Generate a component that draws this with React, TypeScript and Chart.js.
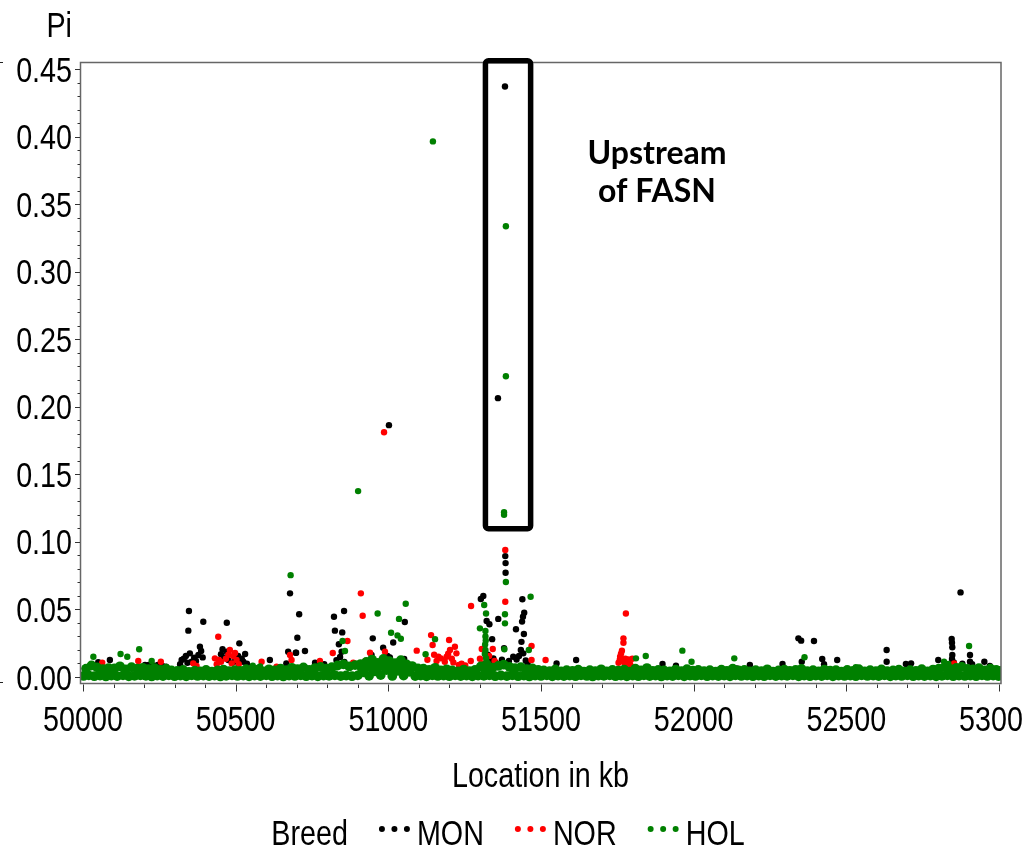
import React, { useEffect, useRef } from 'react';
import { Chart, registerables } from 'chart.js';

Chart.register(...registerables);

// Axis and legend text: Liberation Sans squeezed horizontally for a narrow face
const FONT = '"Liberation Sans", Arial, sans-serif';
const FONT_SIZE = 35;
const SQUEEZE = 0.82;
const NOTE_FONT = 'Lato, "Open Sans", sans-serif';

// Axis ticks
const xTicks = [50000, 50500, 51000, 51500, 52000, 52500, 53000];
const yTicks = [0, 0.05, 0.1, 0.15, 0.2, 0.25, 0.3, 0.35, 0.4, 0.45];

const breeds = ['MON', 'NOR', 'HOL'];
const breedColors = ['#000000', '#ff0000', '#008000'];

// Nucleotide diversity (Pi) per window, [location in kb, Pi]
const monPoints: [number, number][] = [
  [51382, 0.437], [51359, 0.2064], [51002, 0.1864],
  [50347, 0.0488], [50345, 0.0343], [50394, 0.0409], [50471, 0.0402], [50512, 0.0249],
  [50678, 0.0619], [50708, 0.0464], [50702, 0.0291], [50697, 0.018], [50672, 0.0187],
  [50822, 0.0446], [50855, 0.0488], [50825, 0.0343], [50849, 0.033], [50838, 0.0242], [50847, 0.0187],
  [50949, 0.0286], [50945, 0.0163], [50983, 0.0217], [50997, 0.0155], [51016, 0.0255], [51054, 0.0407], [51052, 0.0133],
  [51303, 0.0577], [51311, 0.060], [51322, 0.0414], [51331, 0.039], [51340, 0.028], [51344, 0.0138], [51360, 0.043],
  [51383, 0.0895], [51384, 0.0843], [51384, 0.0772], [51379, 0.0214],
  [51439, 0.0575], [51445, 0.0476], [51441, 0.0446], [51438, 0.041], [51418, 0.0353], [51444, 0.0318],
  [51436, 0.026], [51434, 0.020], [51409, 0.015], [51420, 0.013], [51442, 0.0175],
  [51551, 0.010], [51615, 0.0126],
  [52343, 0.0286], [52352, 0.0269], [52394, 0.0266], [52354, 0.0113], [52421, 0.0133], [52427, 0.0094],
  [52470, 0.0126], [52632, 0.02], [52632, 0.0113], [52695, 0.0096], [52712, 0.0101],
  [52874, 0.0626], [52845, 0.0281], [52846, 0.0254], [52847, 0.022], [52847, 0.0163], [52846, 0.0133],
  [52905, 0.0163], [52905, 0.0113], [52801, 0.0126], [52952, 0.0113], [52970, 0.0081],
  [52852, 0.0108], [52880, 0.0098], [52912, 0.0095],
  [50383, 0.0224], [50378, 0.0163], [50337, 0.0155], [50323, 0.0126], [50356, 0.0113],
  [50318, 0.0095], [50330, 0.0135], [50342, 0.0105], [50350, 0.0175], [50364, 0.0142], [50370, 0.0118], [50387, 0.0192], [50392, 0.0145],
  [50457, 0.0205], [50471, 0.0187], [50531, 0.017], [50525, 0.0113], [50514, 0.0113], [50612, 0.0126],
  [50452, 0.0168], [50462, 0.0142], [50476, 0.0125], [50495, 0.0112], [50508, 0.0155], [50520, 0.0135], [50537, 0.0098],
  [50698, 0.018], [50727, 0.0192], [50666, 0.010], [50760, 0.0105], [50790, 0.0095],
  [50830, 0.0125], [50842, 0.0148], [50856, 0.0112],
  [50992, 0.0125], [51005, 0.0145], [51022, 0.0098], [51045, 0.0112],
  [51326, 0.0165], [51336, 0.0118], [51352, 0.0105], [51372, 0.0128], [51395, 0.0118], [51428, 0.0155], [51450, 0.0122], [51456, 0.0098],
  [50088, 0.0126], [50050, 0.0109], [50203, 0.0089], [50215, 0.009], [50230, 0.0085], [50245, 0.009],
  [50260, 0.0082], [50272, 0.0076],
  [51898, 0.0096], [51942, 0.0084], [52291, 0.0096], [52184, 0.0089], [52141, 0.0064],
];

const norPoints: [number, number][] = [
  [50986, 0.1812], [51383, 0.094], [51383, 0.0557],
  [50443, 0.0298], [50910, 0.0619], [50916, 0.0453], [50866, 0.0266], [50818, 0.0178], [50940, 0.018], [50989, 0.0187],
  [51140, 0.031], [51199, 0.0274], [51218, 0.0224], [51093, 0.0195], [51271, 0.0525], [51306, 0.0207],
  [51342, 0.0207], [51469, 0.023], [51469, 0.0126], [51515, 0.0126], [51202, 0.02], [51223, 0.0175],
  [51164, 0.015], [51191, 0.015], [51231, 0.0089], [51145, 0.0237], [51270, 0.0118],
  [51128, 0.0128], [51150, 0.0165], [51158, 0.0118], [51172, 0.0138], [51185, 0.0112], [51196, 0.0172],
  [51208, 0.0135], [51213, 0.0108], [51240, 0.0098], [51252, 0.0085],
  [51300, 0.0135], [51312, 0.0098], [51330, 0.0155], [51348, 0.0118],
  [51778, 0.047], [51770, 0.0286], [51770, 0.0254], [51765, 0.0195], [51759, 0.015], [51776, 0.0135],
  [51786, 0.013], [51799, 0.0135], [51754, 0.0105], [51780, 0.009], [51792, 0.0095],
  [51762, 0.0172], [51768, 0.0118], [51773, 0.0105], [51758, 0.0128],
  [50361, 0.0101], [50372, 0.0081], [50481, 0.02], [50492, 0.0155], [50503, 0.0126], [50487, 0.0101],
  [50445, 0.0126], [50432, 0.0138], [50585, 0.0113], [50678, 0.0163], [50683, 0.0126], [50776, 0.0118],
  [50438, 0.0095], [50452, 0.0112], [50468, 0.0135], [50476, 0.0165], [50498, 0.0178], [50510, 0.0095],
  [50885, 0.0105], [50925, 0.0118],
  [50634, 0.0076], [50063, 0.0106], [50181, 0.0118], [50255, 0.0113], [52853, 0.0101], [52937, 0.0068],
];

const holPeaks: [number, number][] = [
  [51385, 0.3336], [51385, 0.2226], [51146, 0.3964], [50901, 0.1376], [51379, 0.122], [51379, 0.120],
  [50680, 0.0754], [51385, 0.0703], [51466, 0.0594], [51057, 0.0542], [51314, 0.0533], [51320, 0.047],
  [51035, 0.043], [50965, 0.047], [51382, 0.0464], [51382, 0.0397], [51009, 0.0328], [51041, 0.0283],
  [51030, 0.0308], [51153, 0.028], [51300, 0.036], [51318, 0.034], [51318, 0.030], [51319, 0.027],
  [51317, 0.024], [51318, 0.020], [51316, 0.017], [51320, 0.014], [51380, 0.0205], [51460, 0.02], [51122, 0.0168],
  [50850, 0.0266], [50858, 0.0192],
  [50034, 0.015], [50123, 0.017], [50145, 0.015], [50184, 0.0205], [50225, 0.0118], [50010, 0.0064],
  [50556, 0.0084], [50580, 0.0078], [52531, 0.0072],
  [51843, 0.0155], [51963, 0.0195], [51993, 0.0113], [52133, 0.0138], [51811, 0.0138], [52363, 0.0146],
  [52902, 0.023], [52820, 0.0113], [52834, 0.0096],
];

// Dense low-diversity windows of HOL that form the band along the baseline
const holBand: [number, number][] = [
  [50002, 0.0008], [50010, 0.0062], [50019, 0.0012], [50028, 0.0085], [50037, 0.0006], [50046, 0.0071], [50056, 0.0010], [50065, 0.0058], [50075, 0.0004], [50084, 0.0066], [50093, 0.0011],
  [50103, 0.0064], [50112, 0.0007], [50121, 0.0079], [50131, 0.0012], [50140, 0.0057], [50150, 0.0005], [50159, 0.0072], [50169, 0.0009], [50178, 0.0061], [50188, 0.0013], [50196, 0.0068],
  [50206, 0.0009], [50215, 0.0058], [50225, 0.0004], [50234, 0.0066], [50243, 0.0011], [50253, 0.0052], [50262, 0.0007], [50272, 0.0061], [50281, 0.0012], [50290, 0.0049],
  [50300, 0.0006], [50309, 0.0045], [50319, 0.0010], [50328, 0.0053], [50338, 0.0005], [50347, 0.0038], [50356, 0.0012], [50366, 0.0047], [50375, 0.0008], [50384, 0.0041], [50394, 0.0010],
  [50403, 0.0052], [50413, 0.0007], [50422, 0.0039], [50431, 0.0011], [50441, 0.0048], [50450, 0.0004], [50460, 0.0055], [50469, 0.0009], [50478, 0.0043], [50488, 0.0012], [50497, 0.0050],
  [50506, 0.0008], [50515, 0.0046], [50525, 0.0011], [50534, 0.0058], [50544, 0.0005], [50553, 0.0049], [50562, 0.0010], [50572, 0.0054], [50581, 0.0007], [50591, 0.0042],
  [50600, 0.0012], [50609, 0.0057], [50619, 0.0006], [50628, 0.0048], [50637, 0.0010], [50647, 0.0062], [50656, 0.0004], [50666, 0.0051], [50675, 0.0011], [50684, 0.0068], [50694, 0.0008],
  [50703, 0.0059], [50713, 0.0012], [50722, 0.0071], [50731, 0.0006], [50741, 0.0053], [50750, 0.0010], [50760, 0.0066], [50769, 0.0005], [50778, 0.0074], [50788, 0.0011], [50797, 0.0062],
  [50806, 0.0009], [50815, 0.0072], [50825, 0.0013], [50834, 0.0085], [50844, 0.0007], [50853, 0.0094], [50862, 0.0011], [50872, 0.0078], [50881, 0.0006], [50891, 0.0088],
  [50900, 0.0012], [50909, 0.0096], [50913, 0.0065], [50919, 0.0035], [50928, 0.0112], [50937, 0.0009], [50942, 0.0072], [50947, 0.0128], [50956, 0.0041], [50966, 0.0105], [50971, 0.0078], [50975, 0.0014], [50984, 0.0134], [50989, 0.0088], [50994, 0.0052],
  [51003, 0.0118], [51008, 0.0061], [51013, 0.0008], [51022, 0.0102], [51031, 0.0046], [51036, 0.0074], [51041, 0.0125], [51050, 0.0011], [51055, 0.0058], [51060, 0.0093], [51069, 0.0039], [51078, 0.0081], [51088, 0.0007], [51097, 0.0064],
  [51106, 0.0010], [51115, 0.0061], [51125, 0.0005], [51134, 0.0053], [51144, 0.0012], [51153, 0.0068], [51162, 0.0008], [51172, 0.0049], [51181, 0.0011], [51191, 0.0057],
  [51200, 0.0006], [51209, 0.0048], [51219, 0.0012], [51228, 0.0041], [51237, 0.0007], [51247, 0.0055], [51256, 0.0010], [51266, 0.0044], [51275, 0.0005], [51284, 0.0052], [51294, 0.0011],
  [51303, 0.0078], [51313, 0.0009], [51318, 0.0052], [51322, 0.0095], [51326, 0.0048], [51331, 0.0013], [51341, 0.0069], [51350, 0.0006], [51360, 0.0082], [51369, 0.0011], [51378, 0.0091], [51388, 0.0007], [51397, 0.0074],
  [51406, 0.0012], [51415, 0.0066], [51425, 0.0006], [51434, 0.0073], [51444, 0.0010], [51453, 0.0058], [51462, 0.0004], [51472, 0.0064], [51481, 0.0011], [51491, 0.0052],
  [51500, 0.0008], [51509, 0.0049], [51519, 0.0012], [51528, 0.0043], [51537, 0.0005], [51547, 0.0056], [51556, 0.0010], [51566, 0.0041], [51575, 0.0007], [51584, 0.0051], [51594, 0.0011],
  [51603, 0.0046], [51613, 0.0006], [51622, 0.0054], [51631, 0.0012], [51641, 0.0039], [51650, 0.0008], [51660, 0.0050], [51669, 0.0004], [51678, 0.0044], [51688, 0.0010], [51697, 0.0057],
  [51706, 0.0009], [51715, 0.0042], [51725, 0.0013], [51734, 0.0053], [51744, 0.0006], [51753, 0.0047], [51762, 0.0011], [51772, 0.0055], [51781, 0.0005], [51791, 0.0040],
  [51800, 0.0010], [51809, 0.0061], [51819, 0.0006], [51828, 0.0048], [51837, 0.0012], [51847, 0.0066], [51856, 0.0007], [51866, 0.0045], [51875, 0.0010], [51884, 0.0052], [51894, 0.0004],
  [51903, 0.0049], [51913, 0.0011], [51922, 0.0041], [51931, 0.0007], [51941, 0.0055], [51950, 0.0012], [51960, 0.0044], [51969, 0.0005], [51978, 0.0058], [51988, 0.0010], [51997, 0.0047],
  [52006, 0.0008], [52015, 0.0052], [52025, 0.0012], [52034, 0.0043], [52044, 0.0006], [52053, 0.0050], [52062, 0.0011], [52072, 0.0039], [52081, 0.0007], [52091, 0.0054],
  [52100, 0.0010], [52109, 0.0045], [52119, 0.0005], [52128, 0.0062], [52137, 0.0012], [52147, 0.0048], [52156, 0.0008], [52166, 0.0053], [52175, 0.0011], [52184, 0.0041], [52194, 0.0006],
  [52203, 0.0051], [52213, 0.0010], [52222, 0.0044], [52231, 0.0006], [52241, 0.0057], [52250, 0.0012], [52260, 0.0040], [52269, 0.0007], [52278, 0.0049], [52288, 0.0011], [52297, 0.0054],
  [52306, 0.0009], [52315, 0.0046], [52325, 0.0013], [52334, 0.0052], [52344, 0.0005], [52353, 0.0060], [52362, 0.0010], [52372, 0.0043], [52381, 0.0006], [52391, 0.0050],
  [52400, 0.0011], [52409, 0.0042], [52419, 0.0007], [52428, 0.0055], [52437, 0.0012], [52447, 0.0047], [52456, 0.0005], [52466, 0.0051], [52475, 0.0010], [52484, 0.0039], [52494, 0.0008],
  [52503, 0.0053], [52513, 0.0011], [52522, 0.0045], [52531, 0.0006], [52541, 0.0058], [52550, 0.0012], [52560, 0.0041], [52569, 0.0008], [52578, 0.0050], [52588, 0.0010], [52597, 0.0044],
  [52606, 0.0007], [52615, 0.0056], [52625, 0.0012], [52634, 0.0043], [52644, 0.0005], [52653, 0.0049], [52662, 0.0011], [52672, 0.0054], [52681, 0.0008], [52691, 0.0040],
  [52700, 0.0012], [52709, 0.0051], [52719, 0.0006], [52728, 0.0046], [52737, 0.0010], [52747, 0.0058], [52756, 0.0007], [52766, 0.0042], [52775, 0.0011], [52784, 0.0055], [52794, 0.0005],
  [52803, 0.0062], [52813, 0.0009], [52822, 0.0071], [52831, 0.0013], [52841, 0.0058], [52850, 0.0006], [52860, 0.0067], [52869, 0.0011], [52878, 0.0074], [52888, 0.0008], [52897, 0.0060],
  [52906, 0.0011], [52915, 0.0057], [52925, 0.0006], [52934, 0.0065], [52944, 0.0012], [52953, 0.0048], [52962, 0.0008], [52972, 0.0061], [52981, 0.0010], [52991, 0.0053], [52998, 0.0007], [53003, 0.0045],
];

// Highlighted region upstream of FASN: [kb start, kb end], [Pi bottom, Pi top]
const fasnBoxKb = [51318, 51466];
const fasnBoxPi = [0.1097, 0.4561];
const fasnNote = ['Upstream', 'of FASN'];

const toXY = (pts: [number, number][]) => pts.map(([x, y]) => ({ x, y }));

function narrowText(ctx: CanvasRenderingContext2D, text: string, x: number, y: number, align: CanvasTextAlign) {
  ctx.save();
  ctx.translate(x, y);
  ctx.scale(SQUEEZE, 1);
  ctx.textAlign = align;
  ctx.textBaseline = 'alphabetic';
  ctx.fillText(text, 0, 0);
  ctx.restore();
}

const decorPlugin = {
  id: 'decor',
  afterDraw(chart: any) {
    const { ctx, chartArea: a, scales } = chart;
    const xs = scales.x;
    const ys = scales.y;
    ctx.save();

    // plot frame
    ctx.strokeStyle = '#666666';
    ctx.lineWidth = 1.5;
    ctx.strokeRect(a.left + 0.5, a.top + 0.5, a.right - a.left - 0.5, a.bottom - a.top);

    // y ticks: major every 0.05, minor every 0.01
    ctx.strokeStyle = '#333333';
    ctx.lineWidth = 1;
    for (let i = 0; i <= 45; i++) {
      const py = Math.round(ys.getPixelForValue(i / 100)) + 0.5;
      const len = i % 5 === 0 ? 5 : 2.5;
      ctx.beginPath();
      ctx.moveTo(a.left - len, py);
      ctx.lineTo(a.left, py);
      ctx.stroke();
    }
    // x ticks: major every 500 kb, minor every 100 kb
    for (let k = 0; k <= 30; k++) {
      const px = Math.round(xs.getPixelForValue(50000 + k * 100)) + 0.5;
      const len = k % 5 === 0 ? 7 : 3.5;
      ctx.beginPath();
      ctx.moveTo(px, a.bottom + 1.5);
      ctx.lineTo(px, a.bottom + 1.5 + len);
      ctx.stroke();
    }
    // small edge marks at the far left
    ctx.strokeStyle = '#222';
    ctx.beginPath();
    ctx.moveTo(0, a.top + 0.5);
    ctx.lineTo(3, a.top + 0.5);
    ctx.moveTo(0, a.bottom - 0.5);
    ctx.lineTo(3, a.bottom - 0.5);
    ctx.stroke();

    // tick labels, axis names
    ctx.fillStyle = '#000';
    ctx.font = `${FONT_SIZE}px ${FONT}`;
    const capHalf = FONT_SIZE * 0.358;
    ys.ticks.forEach((t: any) => {
      narrowText(ctx, Number(t.value).toFixed(2), a.left - 8, ys.getPixelForValue(t.value) + capHalf, 'right');
    });
    xs.ticks.forEach((t: any) => {
      narrowText(ctx, String(t.value), xs.getPixelForValue(t.value), a.bottom + 48, 'center');
    });
    narrowText(ctx, 'Location in kb', (a.left + a.right) / 2, a.bottom + 104, 'center');
    narrowText(ctx, 'Pi', a.left - 8, 37, 'right');

    // highlight box
    const bx0 = xs.getPixelForValue(fasnBoxKb[0]);
    const bx1 = xs.getPixelForValue(fasnBoxKb[1]);
    const by0 = ys.getPixelForValue(fasnBoxPi[1]);
    const by1 = ys.getPixelForValue(fasnBoxPi[0]);
    ctx.strokeStyle = '#000';
    ctx.lineWidth = 5.5;
    ctx.lineJoin = 'round';
    ctx.beginPath();
    if (ctx.roundRect) ctx.roundRect(bx0, by0, bx1 - bx0, by1 - by0, 3);
    else ctx.rect(bx0, by0, bx1 - bx0, by1 - by0);
    ctx.stroke();

    // note beside the box
    ctx.font = `bold 32px ${NOTE_FONT}`;
    ctx.textAlign = 'center';
    ctx.textBaseline = 'alphabetic';
    const nx = xs.getPixelForValue(51880);
    ctx.fillText(fasnNote[0], nx, ys.getPixelForValue(0.380));
    ctx.fillText(fasnNote[1], nx, ys.getPixelForValue(0.3513));

    // legend
    ctx.font = `${FONT_SIZE}px ${FONT}`;
    const baseline = 845;
    const dotY = 829;
    const groupGap = 34;
    const dotStep = 12.5;
    const dotToText = 10;
    const w = (s: string) => ctx.measureText(s).width * SQUEEZE;
    const titleW = w('Breed');
    const labelWs = breeds.map((b) => w(b));
    const total = titleW + labelWs.reduce((s, lw) => s + groupGap + 2 * dotStep + dotToText + lw, 0);
    let cx = 508 - total / 2;
    narrowText(ctx, 'Breed', cx, baseline, 'left');
    cx += titleW;
    breeds.forEach((b, i) => {
      cx += groupGap;
      ctx.fillStyle = breedColors[i];
      for (let d = 0; d < 3; d++) {
        ctx.beginPath();
        ctx.arc(cx + d * dotStep, dotY, 3, 0, Math.PI * 2);
        ctx.fill();
      }
      cx += 2 * dotStep + dotToText;
      ctx.fillStyle = '#000';
      narrowText(ctx, b, cx, baseline, 'left');
      cx += labelWs[i];
    });

    ctx.restore();
  },
};

export default function App() {
  const canvasRef = useRef<HTMLCanvasElement | null>(null);

  useEffect(() => {
    const canvas = canvasRef.current;
    if (!canvas) return;
    const pointStyle = { pointBorderWidth: 0, pointRadius: 3.2, pointHoverRadius: 3.2 };
    const holData = toXY([...holBand, ...holPeaks]);
    const chart = new Chart(canvas, {
      type: 'scatter',
      data: {
        datasets: [
          { label: breeds[0], data: toXY(monPoints), backgroundColor: breedColors[0], borderColor: breedColors[0], order: 2, ...pointStyle },
          { label: breeds[1], data: toXY(norPoints), backgroundColor: breedColors[1], borderColor: breedColors[1], order: 1, ...pointStyle },
          {
            label: breeds[2], data: holData, backgroundColor: breedColors[2], borderColor: breedColors[2], order: 0, ...pointStyle,
            // the overplotted baseline windows merge into a solid band
            pointRadius: (c: any) => (c.dataIndex < holBand.length ? 4.9 : 3.2),
          },
        ],
      },
      options: {
        responsive: false,
        animation: false,
        devicePixelRatio: 1,
        events: [],
        layout: { padding: { left: 0, top: 62, right: 21, bottom: 0 } },
        plugins: { legend: { display: false }, tooltip: { enabled: false } },
        scales: {
          x: {
            type: 'linear',
            min: 49990.2,
            max: 53006.5,
            grid: { display: false, drawTicks: false },
            border: { display: false },
            afterBuildTicks: (s: any) => { s.ticks = xTicks.map((v) => ({ value: v })); },
            afterFit: (s: any) => { s.height = 165; s.paddingLeft = 0; s.paddingRight = 0; },
            ticks: { display: false },
          },
          y: {
            type: 'linear',
            min: -0.00444,
            max: 0.45518,
            grid: { display: false, drawTicks: false },
            border: { display: false },
            afterBuildTicks: (s: any) => { s.ticks = yTicks.map((v) => ({ value: v })); },
            afterFit: (s: any) => { s.width = 80; s.paddingTop = 0; s.paddingBottom = 0; },
            ticks: { display: false },
          },
        },
      },
      plugins: [decorPlugin],
    } as any);
    return () => chart.destroy();
  }, []);

  return (
    <div style={{ position: 'absolute', left: 0, top: 0, width: 1022, height: 848, background: '#fff', overflow: 'hidden' }}>
      <canvas ref={canvasRef} width={1022} height={848} />
    </div>
  );
}
